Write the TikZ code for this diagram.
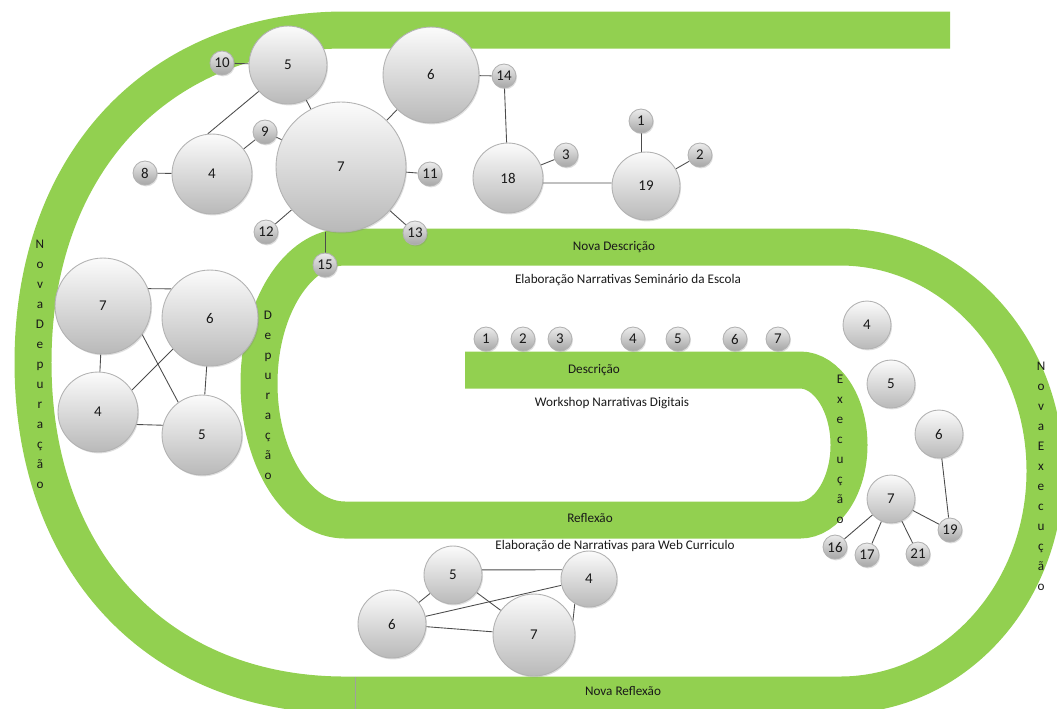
\documentclass[tikz,border=0pt]{standalone}
\usepackage{fontspec}
\setmainfont{Carlito}
\usetikzlibrary{shadows}
\definecolor{band}{RGB}{146,208,80}
\pgfdeclarelayer{bands}
\pgfdeclarelayer{edges}
\pgfsetlayers{bands,edges,main}
\begin{document}
\begin{tikzpicture}[x=0.02cm,y=-0.02cm,
  bandline/.style={draw=band, line width=0.74cm},
  ball/.style={circle, inner sep=0pt, minimum size=#1*0.04cm, draw=gray!60, line width=0.5pt,
    top color=gray!3, bottom color=gray!55, font=\fontsize{8.5}{10}\selectfont, text=black!90,
    drop shadow={opacity=0.25, shadow xshift=0.6pt, shadow yshift=-0.8pt}},
  dot/.style={ball=12, top color=gray!15, bottom color=gray!70},
  link/.style={draw=black!70, line width=0.5pt},
  lbl/.style={font=\fontsize{7.5}{9}\selectfont, text=black!90},
  stack/.style={align=center, font=\fontsize{7.5}{11.4}\selectfont, text=black!90, inner sep=0pt},
  seam/.style={draw=gray!75, line width=0.5pt},
]
\useasboundingbox (0,0) rectangle (1057,708);

% ---------------- spiral bands
\begin{pgfonlayer}{bands}
\draw[bandline] (465,370) -- (800,370)
  .. controls (827,370) and (849,404) .. (849,445)
  .. controls (849,486) and (827,520) .. (800,520)
  -- (345,520)
  .. controls (297.5,520) and (259,459) .. (259,383.5)
  .. controls (259,308) and (297.5,247) .. (345,247)
  -- (840,247)
  .. controls (953,247) and (1045,347) .. (1045,471)
  .. controls (1045,595) and (953,695) .. (840,695)
  -- (345,695)
  .. controls (158,695) and (33,562) .. (33,362.5)
  .. controls (33,163) and (158,30) .. (345,30)
  -- (950,30);
\draw[seam] (355,677) -- (355,712);
\end{pgfonlayer}

% ---------------- band labels
\node[lbl] (tND) at (614,247) {Nova Descrição};
\node[lbl] (tES) at (628,280) {Elaboração Narrativas Seminário da Escola};
\node[lbl] (tD) at (594,370) {Descrição};
\node[lbl] (tW) at (612,403) {Workshop Narrativas Digitais};
\node[lbl] (tR) at (590,518) {Reflexão};
\node[lbl] (tWC) at (615,546) {Elaboração de Narrativas para Web Curriculo};
\node[lbl] (tNR) at (623,691) {Nova Reflexão};
\node[stack] (sND) at (40,364.5) {N\\o\\v\\a\\D\\e\\p\\u\\r\\a\\ç\\ã\\o};
\node[stack] (sD) at (268,395.5) {D\\e\\p\\u\\r\\a\\ç\\ã\\o};
\node[stack] (sE) at (840,449.5) {E\\x\\e\\c\\u\\ç\\ã\\o};
\node[stack] (sNE) at (1041,476.5) {N\\o\\v\\a\\E\\x\\e\\c\\u\\ç\\ã\\o};

% ---------------- top cluster
\node[ball=39] (t5) at (288,65) {5};
\node[dot] (t10) at (222,63) {10};
\node[ball=65] (t7) at (341,167) {7};
\node[ball=40] (t4) at (212,174) {4};
\node[dot] (t8) at (145,173) {8};
\node[dot] (t9) at (265,132) {9};
\node[dot] (t12) at (266,232) {12};
\node[ball=48] (t6) at (431,75) {6};
\node[dot] (t14) at (504,76) {14};
\node[dot] (t11) at (430,174) {11};
\node[dot] (t13) at (415,233) {13};
\node[dot] (t15) at (325,265) {15};
\node[ball=35] (t18) at (508,178) {18};
\node[dot] (t3) at (566,155) {3};
\node[ball=34] (t19) at (646,186) {19};
\node[dot] (t1) at (641,121) {1};
\node[dot] (t2) at (700,155) {2};

% ---------------- left cluster
\node[ball=48] (l7) at (103,306) {7};
\node[ball=48] (l6) at (210,318) {6};
\node[ball=40] (l4) at (98,412) {4};
\node[ball=40] (l5) at (202,435) {5};

% ---------------- middle row
\node[dot] (m1) at (486,339) {1};
\node[dot] (m2) at (523,339) {2};
\node[dot] (m3) at (560,339) {3};
\node[dot] (m4) at (633,339) {4};
\node[dot] (m5) at (678,339) {5};
\node[dot] (m6) at (735,339) {6};
\node[dot] (m7) at (778,339) {7};

% ---------------- right cluster
\node[ball=24] (r4) at (867,325) {4};
\node[ball=24] (r5) at (891,384) {5};
\node[ball=24] (r6) at (939,434) {6};
\node[ball=24] (r7) at (891,499) {7};
\node[dot] (r16) at (835,547) {16};
\node[dot] (r17) at (867,555) {17};
\node[dot] (r21) at (918,554) {21};
\node[dot] (r19) at (950,530) {19};

% ---------------- bottom cluster
\node[ball=29] (b5) at (453,575) {5};
\node[ball=28] (b4) at (589,579) {4};
\node[ball=34] (b6) at (392,624) {6};
\node[ball=41] (b7) at (534,635) {7};

% ---------------- connectors
\begin{pgfonlayer}{edges}
\draw[link] (t10) -- (t5);
\draw[link] (t5.222) -- (t4.96);
\draw[link] (t5) -- (t7);
\draw[link] (t9) -- (t4);
\draw[link] (t9) -- (t7);
\draw[link] (t8) -- (t4);
\draw[link] (t12) -- (t7);
\draw[link] (t7) -- (t6);
\draw[link] (t7) -- (t11);
\draw[link] (t7) -- (t13);
\draw[link] (t15) -- (t15 |- t7.south);
\draw[link] (t6) -- (t14);
\draw[link] (t14) -- (t18);
\draw[link] (t18) -- (t3);
\draw[link] (t18.-8) -- (t19.175);
\draw[link] (t1) -- (t1 |- t19.north);
\draw[link] (t19) -- (t2);

\draw[link] (l7.21) -- (l6.143);
\draw[link] (l7) -- (l4);
\draw[link] (l7.-36) -- (l5.126);
\draw[link] (l6.220) -- (l4.33);
\draw[link] (l6) -- (l5);
\draw[link] (l4.-18) -- (l5.166);

\draw[link] (r7) -- (r16);
\draw[link] (r7) -- (r17);
\draw[link] (r7) -- (r21);
\draw[link] (r7) -- (r19);
\draw[link] (r6) -- (r19);

\draw[link] (b5.10) -- (b4.161);
\draw[link] (b5) -- (b6);
\draw[link] (b5) -- (b7);
\draw[link] (b6) -- (b4);
\draw[link] (b6) -- (b7);
\draw[link] (b7.20) -- (b4.240);
\end{pgfonlayer}
\end{tikzpicture}
\end{document}
